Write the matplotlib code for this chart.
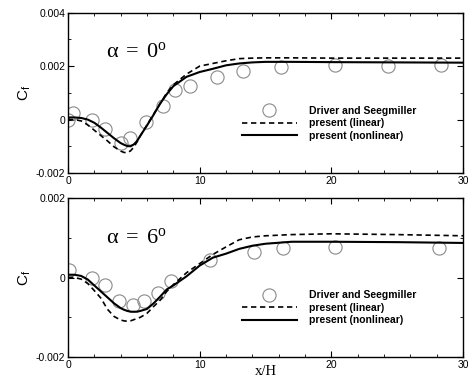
import matplotlib
matplotlib.use("Agg")
import matplotlib.pyplot as plt
import matplotlib.ticker as ticker

plt.rcParams.update({
    "font.family": "Liberation Sans",
    "mathtext.fontset": "custom",
    "mathtext.rm": "Liberation Serif",
    "mathtext.sf": "Liberation Sans",
    "xtick.direction": "in",
    "ytick.direction": "in",
    "xtick.top": True,
    "ytick.right": True,
    "axes.linewidth": 1.0,
})

# solver curves, alpha = 0 deg
x_curve = [0, 0.5, 1, 1.5, 2, 2.5, 3, 3.5, 4, 4.25, 4.5, 4.75, 5, 5.25, 5.5, 6, 6.5,
           7, 7.5, 8, 9, 10, 11, 12, 13, 14, 15, 17, 20, 25, 30]
cf0_nonlin = [0.00008, 0.00008, 0.00006, 0.0, -0.00012, -0.0003, -0.0005, -0.0007,
              -0.00088, -0.00094, -0.00099, -0.001, -0.00093, -0.0008, -0.0006,
              -0.00022, 0.00018, 0.0006, 0.00095, 0.00125, 0.0016, 0.00178, 0.0019,
              0.00203, 0.0021, 0.00214, 0.00216, 0.00216, 0.00215, 0.00214, 0.00213]
cf0_lin = [0.0, 0.0, -0.00005, -0.0002, -0.0004, -0.0006, -0.0008, -0.00102,
           -0.00118, -0.00123, -0.00124, -0.00117, -0.00103, -0.00083, -0.0006,
           -0.0002, 0.0002, 0.0006, 0.001, 0.0013, 0.0017, 0.002, 0.0021, 0.0022,
           0.00228, 0.0023, 0.00231, 0.00231, 0.0023, 0.0023, 0.0023]

# alpha = 6 deg
cf6_nonlin = [0.00007, 0.00007, 0.00004, -0.00005, -0.0002, -0.00035, -0.0005,
              -0.00065, -0.00077, -0.00081, -0.00084, -0.00086, -0.00086, -0.00086,
              -0.00084, -0.00079, -0.00065, -0.00048, -0.0003, -0.0002, 0.00003,
              0.0003, 0.0005, 0.0006, 0.00072, 0.0008, 0.00085, 0.0009, 0.0009,
              0.00089, 0.00087]
cf6_lin = [0.0, 0.0, -0.00004, -0.00015, -0.00033, -0.00052, -0.0008, -0.00098,
           -0.00107, -0.00109, -0.0011, -0.00109, -0.00106, -0.00103, -0.001,
           -0.0009, -0.00073, -0.00057, -0.00035, -0.00018, 0.00012, 0.00035,
           0.00058, 0.00077, 0.00095, 0.00102, 0.00105, 0.00108, 0.0011, 0.00108,
           0.00105]

# Driver and Seegmiller measurements
x_exp0 = [0.0, 0.4, 1.8, 2.8, 4.0, 4.7, 5.9, 7.2, 8.1, 9.3, 11.3, 13.3, 16.2, 20.3, 24.3, 28.3]
cf_exp0 = [0.0, 0.00024, 0.0, -0.00037, -0.00088, -0.00068, -0.0001, 0.0005, 0.0011,
           0.00124, 0.0016, 0.0018, 0.00195, 0.00205, 0.002, 0.00203]
x_exp6 = [0.1, 1.8, 2.8, 3.9, 4.9, 5.8, 6.8, 7.8, 10.8, 14.1, 16.3, 20.3, 28.2]
cf_exp6 = [0.0002, 0.0, -0.0002, -0.0006, -0.0007, -0.0006, -0.0004, -0.0001, 0.00045,
           0.00065, 0.00075, 0.00078, 0.00075]

panels = [
    dict(rect=[0.1453, 0.5435, 0.844, 0.423], lin=cf0_lin, nonlin=cf0_nonlin,
         xe=x_exp0, ye=cf_exp0, ylim=(-0.002, 0.004), label=r"$\mathrm{α\,=\,0^{o}}$",
         lab_y=0.00256),
    dict(rect=[0.1453, 0.058, 0.844, 0.4195], lin=cf6_lin, nonlin=cf6_nonlin,
         xe=x_exp6, ye=cf_exp6, ylim=(-0.002, 0.002), label=r"$\mathrm{α\,=\,6^{o}}$",
         lab_y=0.001),
]

fig = plt.figure(figsize=(4.68, 3.79), dpi=100)

for i, p in enumerate(panels):
    ax = fig.add_axes(p["rect"])
    ax.plot(p["xe"], p["ye"], ls="none", marker="o", ms=9.5, mfc="none",
            mec="#8a8a8a", mew=0.8, label="Driver and Seegmiller")
    ax.plot(x_curve, p["lin"], color="black", ls=(0, (3.2, 2.2)), lw=1.2,
            label="present (linear)")
    ax.plot(x_curve, p["nonlin"], color="black", ls="-", lw=1.5,
            label="present (nonlinear)")

    ax.set_xlim(0, 30)
    ax.set_ylim(*p["ylim"])
    ax.xaxis.set_major_locator(ticker.MultipleLocator(10))
    ax.xaxis.set_minor_locator(ticker.MultipleLocator(2))
    ax.yaxis.set_major_locator(ticker.MultipleLocator(0.002))
    ax.yaxis.set_minor_locator(ticker.MultipleLocator(0.001))
    ax.yaxis.set_major_formatter(ticker.FuncFormatter(lambda v, _: f"{v:g}"))
    ax.tick_params(which="major", length=4, width=0.8, labelsize=7.5, pad=2)
    ax.tick_params(which="minor", length=2, width=0.6)
    ax.set_ylabel(r"$\mathsf{C_f}$", fontsize=11, labelpad=2)

    ax.text(5.2, p["lab_y"], p["label"], fontsize=16, ha="center", va="center")

    ax.legend(loc="upper left", bbox_to_anchor=(0.44, 0.42),
              frameon=False, prop={"weight": "bold", "size": 7.5},
              handlelength=5.3, handletextpad=1.15, labelspacing=0.25,
              borderpad=0, borderaxespad=0)

    if i == 1:
        ax.text(15, -0.002375, "x/H", fontsize=10.5, ha="center", va="center",
                family="Liberation Serif")

fig.savefig("out.png", dpi=100)
